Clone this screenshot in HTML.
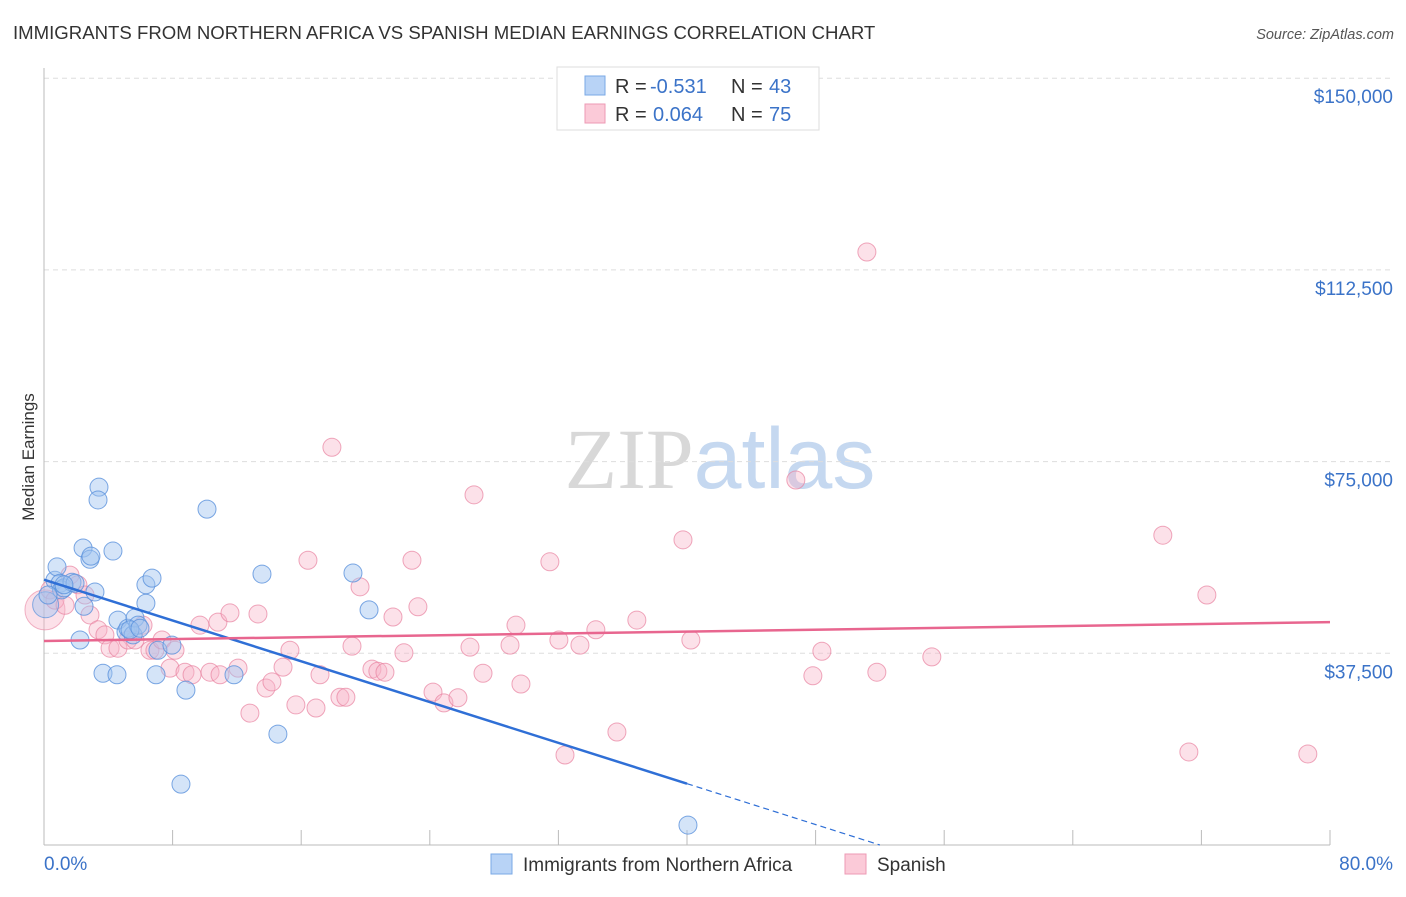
<!DOCTYPE html>
<html><head><meta charset="utf-8"><style>
body{margin:0;background:#fff;font-family:"Liberation Sans",sans-serif;}
svg text{font-family:"Liberation Sans",sans-serif;}
</style></head><body>
<svg id="chart" width="1406" height="892" viewBox="0 0 1406 892" xmlns="http://www.w3.org/2000/svg">
<text x="13" y="39" font-size="18.6" fill="#333">IMMIGRANTS FROM NORTHERN AFRICA VS SPANISH MEDIAN EARNINGS CORRELATION CHART</text>
<text x="1394" y="39" font-size="14.5" fill="#555" text-anchor="end" font-style="italic">Source: ZipAtlas.com</text>
<text x="720" y="488" font-size="86" text-anchor="middle"><tspan fill="#d8d8d8" font-family="Liberation Serif">ZIP</tspan><tspan fill="#c5d8f0">atlas</tspan></text>
<text transform="translate(34,457) rotate(-90)" font-size="17" fill="#333" text-anchor="middle">Median Earnings</text>
<g id="grid"></g><g id="axes"></g><g id="pink"></g><g id="blue"></g><g id="lines"></g>
<g>
<rect x="557" y="67" width="262" height="63" fill="#fff" stroke="#ddd"/>
<rect x="585" y="76" width="20" height="19" fill="#b8d3f6" stroke="#7aa8e6"/>
<rect x="585" y="104" width="20" height="19" fill="#fbcad8" stroke="#ee9ab4"/>
<text x="615" y="93" font-size="20" fill="#333">R =</text>
<text x="650" y="93" font-size="20" fill="#3b73c8">-0.531</text>
<text x="731" y="93" font-size="20" fill="#333">N =</text>
<text x="769" y="93" font-size="20" fill="#3b73c8">43</text>
<text x="615" y="121" font-size="20" fill="#333">R =</text>
<text x="653" y="121" font-size="20" fill="#3b73c8">0.064</text>
<text x="731" y="121" font-size="20" fill="#333">N =</text>
<text x="769" y="121" font-size="20" fill="#3b73c8">75</text>
</g>
<g>
<rect x="491" y="854" width="21" height="20" fill="#b8d3f6" stroke="#7aa8e6"/>
<text x="523" y="871" font-size="19" fill="#333">Immigrants from Northern Africa</text>
<rect x="845" y="854" width="21" height="20" fill="#fbcad8" stroke="#ee9ab4"/>
<text x="877" y="871" font-size="19" fill="#333">Spanish</text>
</g>
</svg>
<script>
const yTicks=[37.5,75,112.5,150];
const yTickLabels=["$37,500","$75,000","$112,500","$150,000"];
const xTickVals=[0,8,16,24,32,40,48,56,64,72,80];
const blueX=[0.68,0.81,1.0,1.09,1.24,1.74,1.93,2.43,2.49,2.86,2.92,3.17,3.42,3.36,4.29,2.24,3.67,4.54,4.6,5.1,5.22,5.54,5.66,5.85,6.34,6.34,6.72,6.97,7.09,7.96,8.52,8.83,10.14,11.82,13.56,14.55,19.22,20.22,40.06,0.25,1.24,5.35,5.97];
const blueY=[51.8,54.4,51.2,49.9,50.3,51.4,51.2,58.1,46.7,55.9,56.5,49.5,70.0,67.5,57.5,40.1,33.6,33.3,44.0,41.7,42.4,41.1,44.4,43.0,50.9,47.3,52.2,33.3,38.1,39.1,11.9,30.3,65.7,33.3,53.0,21.7,53.2,46.0,3.9,48.9,50.9,42.1,42.4];
const pinkX=[0.37,0.68,1.31,1.62,2.11,2.55,2.86,3.36,3.79,4.11,4.6,5.22,5.66,6.16,6.59,6.9,7.34,7.84,8.15,8.77,9.21,9.7,10.33,10.82,10.95,11.57,12.07,12.81,13.31,13.81,14.18,14.87,15.3,15.67,16.42,16.92,17.17,17.91,18.41,18.78,19.16,19.66,20.4,20.77,21.21,21.71,22.39,22.89,23.26,24.2,24.88,25.75,26.5,26.75,27.31,28.99,29.36,29.67,31.47,32.03,32.41,33.34,34.33,35.64,36.88,39.75,40.24,46.77,47.83,48.39,51.19,51.81,55.23,69.6,71.22,72.34,78.62];
const pinkY=[49.9,47.9,46.9,52.8,50.9,48.9,45.0,42.1,41.1,38.5,38.5,40.1,40.1,43.0,38.1,38.1,40.1,34.6,38.1,33.8,33.3,43.0,33.8,43.6,33.3,45.4,34.6,25.8,45.2,30.7,31.9,34.8,38.1,27.4,55.7,26.8,33.3,77.8,28.9,28.9,38.9,50.5,34.4,34.0,33.8,44.6,37.6,55.7,46.6,29.9,27.8,28.8,38.7,68.5,33.6,39.1,43.0,31.5,55.4,40.1,17.6,39.1,42.1,22.1,44.0,59.7,40.1,71.4,33.1,37.9,116.0,33.8,36.8,60.6,18.2,48.9,17.8];
const blueTrendX=[0,40,52.0];
const blueTrendY=[51.9,12.0,0.0];
const pinkTrendX=[0,80];
const pinkTrendY=[39.9,43.6];
const NS="http://www.w3.org/2000/svg";
const X=v=>44+v/80*1286;
const Y=v=>845-v/37.5*191.7;
function mk(tag,attrs,parent){const e=document.createElementNS(NS,tag);for(const k in attrs)e.setAttribute(k,attrs[k]);parent.appendChild(e);return e;}
const grid=document.getElementById('grid'),axes=document.getElementById('axes');
yTicks.forEach((t,i)=>{
 const l=mk('line',{x1:44,x2:1393,y1:Y(t),y2:Y(t),stroke:'#ddd','stroke-dasharray':'5,4'},grid);
 
 
 const tx=mk('text',{x:1393,y:Y(t)+25,'font-size':19,fill:'#3b73c8','text-anchor':'end'},axes);
 tx.textContent=yTickLabels[i];
 
 
});
const ax=mk('line',{x1:44,x2:1330,y1:845,y2:845,stroke:'#bbb'},axes);


const ay=mk('line',{x1:44,x2:44,y1:68,y2:845,stroke:'#bbb'},axes);


xTickVals.forEach(v=>{
 const t=mk('line',{x1:X(v),x2:X(v),y1:830,y2:845,stroke:'#bbb'},axes);
 
 
});
const xl0=mk('text',{x:44,y:870,'font-size':19,fill:'#3b73c8'},axes);xl0.textContent='0.0%';


const xl1=mk('text',{x:1393,y:870,'font-size':19,fill:'#3b73c8','text-anchor':'end'},axes);xl1.textContent='80.0%';


const pg=document.getElementById('pink'),bg=document.getElementById('blue');
const big=mk('circle',{cx:X(0.06),cy:Y(46),r:20,fill:'rgba(248,180,200,0.4)',stroke:'rgba(232,130,160,0.6)'},pg);


pinkX.forEach((v,i)=>{
 const c=mk('circle',{cx:X(v),cy:Y(pinkY[i]),r:9,fill:'rgba(248,180,200,0.4)',stroke:'rgba(232,130,160,0.7)'},pg);
 
 
});
const bigb=mk('circle',{cx:X(0.1),cy:Y(47),r:13,fill:'rgba(160,196,240,0.45)',stroke:'rgba(90,145,220,0.7)'},bg);


blueX.forEach((v,i)=>{
 const c=mk('circle',{cx:X(v),cy:Y(blueY[i]),r:9,fill:'rgba(160,196,240,0.45)',stroke:'rgba(90,145,220,0.8)'},bg);
 
 
});
const lg=document.getElementById('lines');
const bl=mk('line',{x1:X(blueTrendX[0]),y1:Y(blueTrendY[0]),x2:X(blueTrendX[1]),y2:Y(blueTrendY[1]),stroke:'#2f6fd6','stroke-width':2.5},lg);


const bd=mk('line',{x1:X(blueTrendX[1]),y1:Y(blueTrendY[1]),x2:X(blueTrendX[2]),y2:Y(blueTrendY[2]),stroke:'#2f6fd6','stroke-width':1.2,'stroke-dasharray':'6,4'},lg);


const pl=mk('line',{x1:X(pinkTrendX[0]),y1:Y(pinkTrendY[0]),x2:X(pinkTrendX[1]),y2:Y(pinkTrendY[1]),stroke:'#e8668f','stroke-width':2.5},lg);


</script>
</body></html>
